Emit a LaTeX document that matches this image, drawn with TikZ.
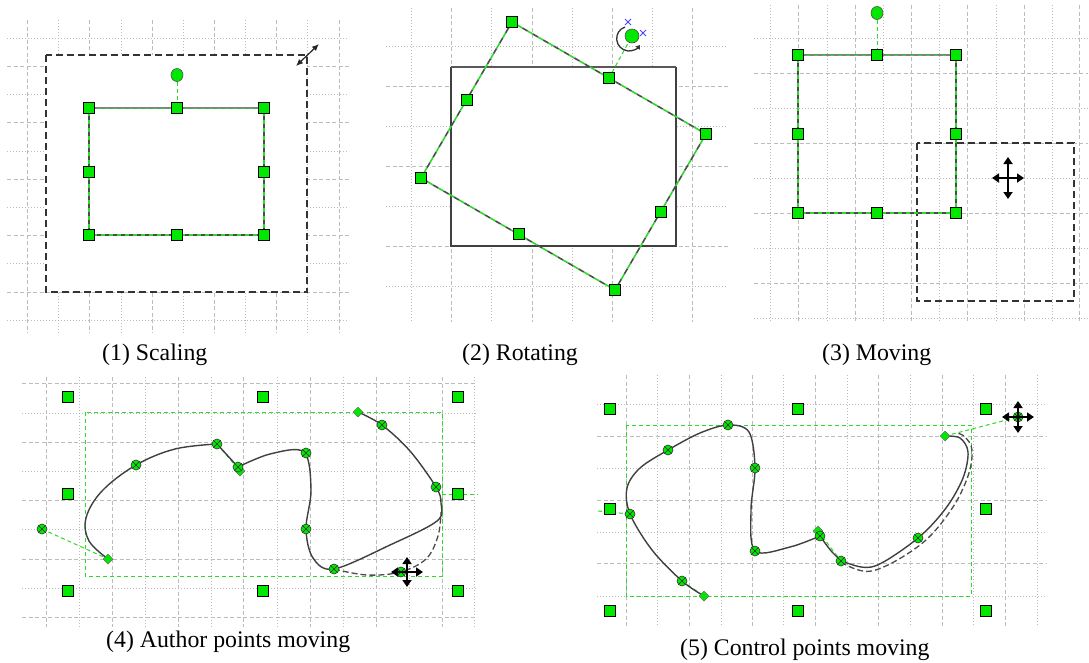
\documentclass[tikz,border=0pt]{standalone}
\usepackage{fontspec}
\setmainfont{Liberation Serif}
\usetikzlibrary{arrows.meta,shapes.geometric}
\definecolor{hgreen}{RGB}{0,232,0}
\definecolor{lgreen}{RGB}{40,220,40}
\definecolor{gridc}{RGB}{188,188,188}
\definecolor{cblue}{RGB}{70,70,255}
\pgfdeclarelayer{gridlayer}
\pgfdeclarelayer{edgelayer}
\pgfsetlayers{gridlayer,edgelayer,main}
\tikzset{
  gmaj/.style={gridc, line width=0.9pt, dash pattern=on 4pt off 2.5pt},
  gmin/.style={gridc, line width=0.9pt, dash pattern=on 1.2pt off 1.8pt},
  handle/.style={rectangle, draw=black, fill=hgreen, line width=0.9pt, minimum size=10.5pt, inner sep=0pt},
  rhandle/.style={ellipse, draw=black!70, fill=hgreen, line width=0.6pt, minimum width=12pt, minimum height=13pt, inner sep=0pt},
  apt/.style={circle, draw=black!80, fill=hgreen, line width=0.6pt, minimum size=10pt, inner sep=0pt,
    path picture={\draw[black!85, line width=0.6pt]
      (path picture bounding box.north west) -- (path picture bounding box.south east)
      (path picture bounding box.north east) -- (path picture bounding box.south west);}},
  dpt/.style={diamond, draw=black!60, fill=hgreen, line width=0.5pt, minimum size=10pt, inner sep=0pt},
  dashrect/.style={black!80, line width=1.3pt, dash pattern=on 7pt off 4pt},
  gdash/.style={lgreen, line width=1pt, dash pattern=on 4pt off 3pt},
  topbar/.style={black!50, line width=2.4pt},
  solidrect/.style={black!75, line width=1.3pt},
  curve/.style={black!75, line width=1.4pt},
  ghost/.style={black!70, line width=1.3pt, dash pattern=on 6pt off 3pt},
  caption/.style={font=\fontsize{23.8pt}{28pt}\selectfont, anchor=base west, inner sep=0pt},
  mv/.style={line width=2pt, -{Triangle[length=7pt,width=9pt]}},
}
\newcommand\seledge[4]{%
  \draw[black!70, line width=#2pt, dash pattern=on #1pt off #1pt] (#3.center) -- (#4.center);
  \draw[lgreen, line width=#2pt, dash pattern=on #1pt off #1pt, dash phase=#1pt] (#3.center) -- (#4.center);}
\newcommand\topedge[2]{%
  \draw[topbar] (#1.center) -- (#2.center);
  \draw[lgreen, line width=1pt, dash pattern=on 4pt off 4pt] (#1.center) -- (#2.center);}
\begin{document}
\begin{tikzpicture}[x=1pt,y=-1pt]
\path[use as bounding box] (0,0) rectangle (1089,662);

% ---------------- grids ----------------
\begin{pgfonlayer}{gridlayer}
\fill[white] (0,0) rectangle (1089,662);
% panel 1
\foreach \x in {27,89,152,214,276,339} \draw[gmaj] (\x,20) -- (\x,333);
\foreach \x in {58,121,183,245,307} \draw[gmin] (\x,20) -- (\x,333);
\foreach \y in {66,122,179,235,292} \draw[gmaj] (7,\y) -- (349,\y);
\foreach \y in {38,94,151,207,263,320} \draw[gmin] (7,\y) -- (349,\y);
% panel 2
\foreach \x in {451,532,612,692} \draw[gmaj] (\x,8) -- (\x,322);
\foreach \x in {411,491,572,652} \draw[gmin] (\x,8) -- (\x,322);
\foreach \y in {86,166,246} \draw[gmaj] (386,\y) -- (728,\y);
\foreach \y in {46,126,206,286} \draw[gmin] (386,\y) -- (728,\y);
% panel 3
\foreach \x in {798,855,911,967,1024,1079} \draw[gmaj] (\x,5) -- (\x,322);
\foreach \x in {770,827,883,939,996,1052} \draw[gmin] (\x,5) -- (\x,322);
\foreach \y in {73,143,213,283} \draw[gmaj] (754,\y) -- (1088,\y);
\foreach \y in {38,108,178,248,318} \draw[gmin] (754,\y) -- (1088,\y);
% panel 4
\foreach \x in {46,112,178,243,310,376,442} \draw[gmaj] (\x,377) -- (\x,627);
\foreach \x in {79,145,211,277,343,409,474} \draw[gmin] (\x,377) -- (\x,627);
\foreach \y in {383,442,500,559,617} \draw[gmaj] (22,\y) -- (476,\y);
\foreach \y in {413,471,529,588} \draw[gmin] (22,\y) -- (476,\y);
% panel 5
\foreach \x in {626,689,752,815,878,942,1005} \draw[gmaj] (\x,375) -- (\x,627);
\foreach \x in {657,721,783,847,910,973,1037} \draw[gmin] (\x,375) -- (\x,627);
\foreach \y in {436,500,563} \draw[gmaj] (597,\y) -- (1047,\y);
\foreach \y in {404,468,532,596} \draw[gmin] (597,\y) -- (1047,\y);
\end{pgfonlayer}

% ---------------- panel 1: scaling ----------------
\begin{pgfonlayer}{edgelayer}
\fill[white] (46,55) rectangle (307,292);
\draw[dashrect] (46,55) rectangle (307,292);
\end{pgfonlayer}
\node[handle] (a1) at (89,108) {};
\node[handle] (a2) at (177,108) {};
\node[handle] (a3) at (264,108) {};
\node[handle] (a4) at (89,172) {};
\node[handle] (a5) at (264,172) {};
\node[handle] (a6) at (89,235) {};
\node[handle] (a7) at (177,235) {};
\node[handle] (a8) at (264,235) {};
\node[rhandle] (ar) at (177,75) {};
\begin{pgfonlayer}{edgelayer}
\topedge{a1}{a3}
\seledge{4}{1.3}{a1}{a6}
\seledge{4}{1.3}{a3}{a8}
\seledge{4}{1.3}{a6}{a8}
\draw[gdash] (ar) -- (a2);
\end{pgfonlayer}
\coordinate (sz1) at (296,66);
\coordinate (sz2) at (319,44);
\draw[black!85, line width=1.2pt, {Latex[length=7pt,width=6pt]}-{Latex[length=7pt,width=6pt]}] (sz1) -- (sz2);
\node[caption] (cap1) at (102,360) {(1) Scaling};

% ---------------- panel 2: rotating ----------------
\coordinate (r1) at (451,67);
\coordinate (r2) at (676,67);
\coordinate (r3) at (676,246);
\coordinate (r4) at (451,246);
\node[handle] (b1) at (512,22) {};
\node[handle] (b2) at (609,78) {};
\node[handle] (b3) at (706,134) {};
\node[handle] (b4) at (661,212) {};
\node[handle] (b5) at (615,290) {};
\node[handle] (b6) at (519,234) {};
\node[handle] (b7) at (421,178) {};
\node[handle] (b8) at (467,100) {};
\node[rhandle, minimum width=14pt, minimum height=14pt] (br) at (632,36) {};
\begin{pgfonlayer}{edgelayer}
\fill[white] (r1) rectangle (r3);
\draw[solidrect] (r2) -- (r3) -- (r4) -- (r1);
\draw[black!65, line width=2.2pt] (r1) -- (r2);
\seledge{6}{1.6}{b1}{b3}
\seledge{6}{1.6}{b3}{b5}
\seledge{6}{1.6}{b5}{b7}
\seledge{6}{1.6}{b7}{b1}
\draw[gdash] (b2) -- (br);
\end{pgfonlayer}
\draw[black!80, line width=1.3pt, -{Triangle[length=4pt,width=5pt]}]
  (625,27) .. controls (613,31) and (614,49) .. (628,51) .. controls (633,51) and (637,49) .. (640,45);
\coordinate (bx1) at (628,22);
\coordinate (bx2) at (643,33);
\draw[cblue, line width=0.8pt] ([shift={(-3,-3)}]bx1) -- ([shift={(3,3)}]bx1) ([shift={(-3,3)}]bx1) -- ([shift={(3,-3)}]bx1);
\draw[cblue, line width=0.8pt] ([shift={(-3,-3)}]bx2) -- ([shift={(3,3)}]bx2) ([shift={(-3,3)}]bx2) -- ([shift={(3,-3)}]bx2);
\node[caption] (cap2) at (462,360) {(2) Rotating};

% ---------------- panel 3: moving ----------------
\begin{pgfonlayer}{edgelayer}
\draw[dashrect] (917,143) rectangle (1074,301);
\end{pgfonlayer}
\node[handle] (c1) at (798,55) {};
\node[handle] (c2) at (877,55) {};
\node[handle] (c3) at (956,55) {};
\node[handle] (c4) at (798,134) {};
\node[handle] (c5) at (956,134) {};
\node[handle] (c6) at (798,213) {};
\node[handle] (c7) at (877,213) {};
\node[handle] (c8) at (956,213) {};
\node[rhandle] (cr) at (877,13) {};
\begin{pgfonlayer}{edgelayer}
\topedge{c1}{c3}
\seledge{4}{1.3}{c1}{c6}
\seledge{4}{1.3}{c3}{c8}
\seledge{4}{1.3}{c6}{c8}
\draw[gdash] (cr) -- (c2);
\end{pgfonlayer}
\coordinate (m3) at (1008,178);
\draw[mv] (m3) -- ++(0,-21);
\draw[mv] (m3) -- ++(0,21);
\draw[mv] (m3) -- ++(-16,0);
\draw[mv] (m3) -- ++(16,0);
\node[caption] (cap3) at (822,360) {(3) Moving};

% ---------------- panel 4: author points moving ----------------
\node[handle] (d1) at (68,397) {};
\node[handle] (d2) at (263,397) {};
\node[handle] (d3) at (458,397) {};
\node[handle] (d4) at (68,494) {};
\node[handle] (d5) at (458,494) {};
\node[handle] (d6) at (68,591) {};
\node[handle] (d7) at (263,591) {};
\node[handle] (d8) at (458,591) {};
\coordinate (d5l) at (442,494);
\coordinate (d5r) at (478,494);
\begin{pgfonlayer}{edgelayer}
\draw[gdash] (85,412) rectangle (442,576);
\draw[gdash] (d5l) -- (d5r);
\draw[gdash] (42,529) -- (108,559);
\draw[gdash] (217,444) -- (240,471);
\draw[curve] plot[smooth, tension=0.6] coordinates {(108,559) (89,541) (86,518) (102,491) (136,465) (175,449) (217,444)};
\draw[curve] (217,444) -- (238,467);
\draw[curve] plot[smooth, tension=0.55] coordinates {(238,467) (270,454) (304,452) (311,490) (306,529) (313,558) (334,569) (390,545) (437,521) (441,503) (436,487) (410,451) (382,425) (358,412)};
\draw[ghost] plot[smooth, tension=0.6] coordinates {(334,569) (367,575) (400,572) (426,559) (438,536) (441,512)};
\end{pgfonlayer}
\node[dpt] (e0) at (108,559) {};
\node[dpt] (e1) at (240,471) {};
\node[dpt] (e2) at (358,412) {};
\node[apt] (p0) at (42,529) {};
\node[apt] (p1) at (136,465) {};
\node[apt] (p2) at (217,444) {};
\node[apt] (p3) at (238,467) {};
\node[apt] (p4) at (306,453) {};
\node[apt] (p5) at (306,529) {};
\node[apt] (p6) at (334,569) {};
\node[apt] (p7) at (436,487) {};
\node[apt] (p8) at (382,425) {};
\node[apt] (p9) at (401,572) {};
\coordinate (m4) at (407,572);
\draw[mv] (m4) -- ++(0,-15);
\draw[mv] (m4) -- ++(0,15);
\draw[mv] (m4) -- ++(-16,0);
\draw[mv] (m4) -- ++(16,0);
\node[caption] (cap4) at (106,647) {(4) Author points moving};

% ---------------- panel 5: control points moving ----------------
\node[handle] (f1) at (610,409) {};
\node[handle] (f2) at (798,409) {};
\node[handle] (f3) at (986,409) {};
\node[handle] (f4) at (610,509) {};
\node[handle] (f5) at (986,509) {};
\node[handle] (f6) at (610,611) {};
\node[handle] (f7) at (798,611) {};
\node[handle] (f8) at (986,611) {};
\coordinate (f4l) at (598,511);
\begin{pgfonlayer}{edgelayer}
\draw[gdash] (626,425) rectangle (971,596);
\draw[gdash] (f4l) -- (630,514);
\draw[gdash] (682,581) -- (704,596);
\draw[gdash] (818,531) -- (841,561);
\draw[gdash] (945,436) -- (1018,417);
\draw[curve] plot[smooth, tension=0.55] coordinates {(704,596) (682,581) (652,550) (630,514) (627,488) (640,468) (668,450) (700,433) (728,425) (749,432) (755,468) (751,510) (755,551) (790,547) (820,536)};
\draw[curve] plot[smooth, tension=0.55] coordinates {(820,536) (833,553) (847,563) (875,566) (918,538) (946,508) (963,478) (968,452) (960,438) (945,436)};
\draw[ghost] plot[smooth, tension=0.6] coordinates {(841,562) (872,571) (920,545) (951,510) (968,476) (972,450) (965,437) (957,433)};
\end{pgfonlayer}
\node[dpt] (g0) at (704,596) {};
\node[dpt] (g1) at (818,531) {};
\node[dpt] (g2) at (945,436) {};
\node[apt] (q1) at (682,581) {};
\node[apt] (q2) at (630,514) {};
\node[apt] (q3) at (668,450) {};
\node[apt] (q4) at (728,425) {};
\node[apt] (q5) at (755,468) {};
\node[apt] (q6) at (755,551) {};
\node[apt] (q7) at (820,536) {};
\node[apt] (q8) at (841,561) {};
\node[apt] (q9) at (918,538) {};
\node[apt] (q10) at (1018,417) {};
\coordinate (m5) at (1018,417);
\draw[mv] (m5) -- ++(0,-16);
\draw[mv] (m5) -- ++(0,16);
\draw[mv] (m5) -- ++(-16,0);
\draw[mv] (m5) -- ++(16,0);
\node[caption] (cap5) at (680,655) {(5) Control points moving};
\end{tikzpicture}
\end{document}
